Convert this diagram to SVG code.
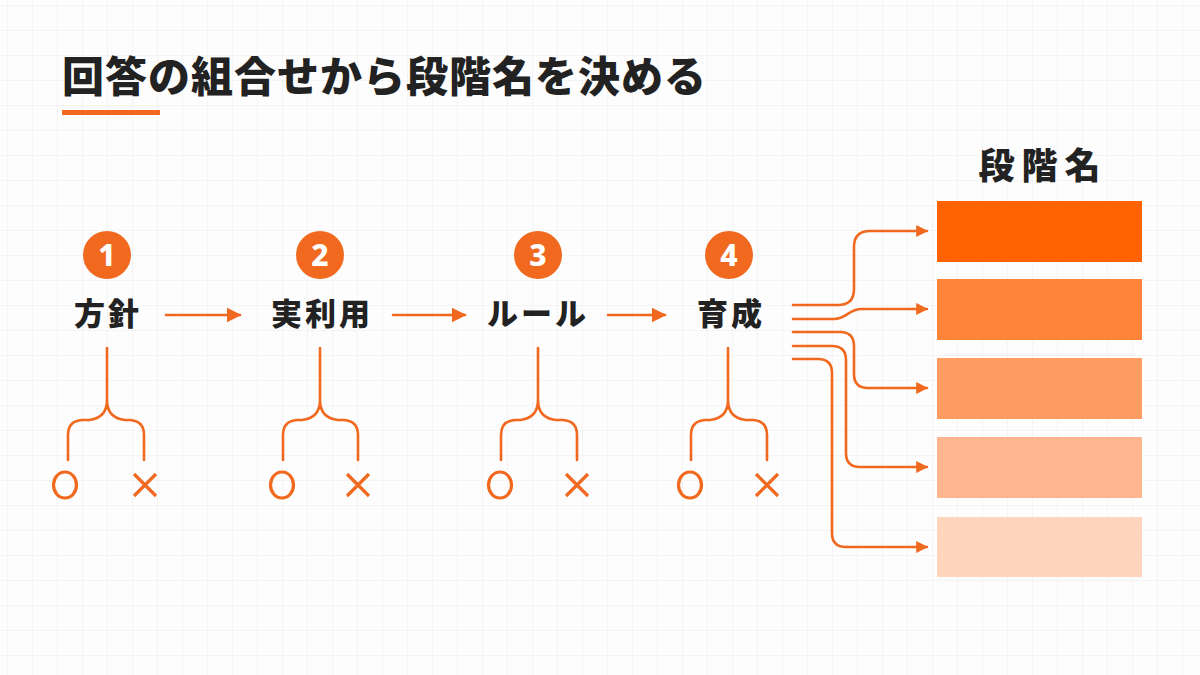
<svg xmlns="http://www.w3.org/2000/svg" width="1200" height="675" viewBox="0 0 1200 675">
<defs>
<pattern id="grid" patternUnits="userSpaceOnUse" x="7" y="5" width="25" height="25">
<path d="M0,0 H25 M0,0 V25" fill="none" stroke="#ebebeb" stroke-width="1"/>
</pattern>
<marker id="arr" markerUnits="userSpaceOnUse" viewBox="0 0 10 10" refX="9" refY="5" markerWidth="15" markerHeight="16" orient="auto">
<path d="M0,0 L10,5 L0,10 z" fill="#F0691E"/>
</marker>
<marker id="arr2" markerUnits="userSpaceOnUse" viewBox="0 0 10 10" refX="9" refY="5" markerWidth="12" markerHeight="15" orient="auto">
<path d="M0,0 L10,5 L0,10 z" fill="#F0691E"/>
</marker>
</defs>
<style>
.t{font-family:"Noto Sans","Noto Sans CJK JP",sans-serif;font-weight:900;fill:#222}
.num{font-family:"Noto Sans","Noto Sans CJK JP",sans-serif;font-weight:800;fill:#fff;font-size:30px;text-anchor:middle}
.lbl{font-size:31px;letter-spacing:3px;text-anchor:middle;font-weight:800}
.ln{fill:none;stroke:#F0691E;stroke-width:2.6;stroke-linecap:round;stroke-linejoin:round}
.ox{fill:none;stroke:#F0691E;stroke-width:3.2}
.badge{fill:#F0691E}
</style>
<rect width="1200" height="675" fill="#fdfdfd"/>
<rect width="1200" height="675" fill="url(#grid)"/>

<g id="title">
<text class="t" x="62" y="92" font-size="42" letter-spacing="1">回答の組合せから段階名を決める</text>
<rect x="62" y="110" width="98" height="5" fill="#F0691E"/>
</g>

<g id="step1">
<circle class="badge" cx="107" cy="255" r="24"/>
<text class="num" x="107" y="266">1</text>
<text class="t lbl" x="108" y="325">方針</text>
<path class="ln" d="M107,348 V400 Q107,418 89,420 H82 Q68,421 68,435 V460 M107,400 Q107,418 125,420 H130 Q144,421 144,435 V460"/>
<ellipse class="ox" cx="65" cy="485" rx="11.5" ry="13"/>
<path class="ox" d="M134,474 L156,496 M156,474 L134,496"/>
</g>

<g id="step2">
<circle class="badge" cx="320" cy="255" r="24"/>
<text class="num" x="320" y="266">2</text>
<text class="t lbl" x="322" y="325">実利用</text>
<path class="ln" d="M320,348 V400 Q320,418 302,420 H297 Q283,421 283,435 V460 M320,400 Q320,418 338,420 H344 Q358,421 358,435 V460"/>
<ellipse class="ox" cx="282" cy="485" rx="11.5" ry="13"/>
<path class="ox" d="M347,474 L369,496 M369,474 L347,496"/>
</g>

<g id="step3">
<circle class="badge" cx="538" cy="255" r="24"/>
<text class="num" x="538" y="266">3</text>
<text class="t lbl" x="538" y="325">ルール</text>
<path class="ln" d="M538,348 V400 Q538,418 520,420 H515 Q501,421 501,435 V460 M538,400 Q538,418 556,420 H563 Q577,421 577,435 V460"/>
<ellipse class="ox" cx="500" cy="485" rx="11.5" ry="13"/>
<path class="ox" d="M566,474 L588,496 M588,474 L566,496"/>
</g>

<g id="step4">
<circle class="badge" cx="729" cy="255" r="24"/>
<text class="num" x="729" y="266">4</text>
<text class="t lbl" x="731" y="325">育成</text>
<path class="ln" d="M728,348 V400 Q728,418 710,420 H705 Q691,421 691,435 V460 M728,400 Q728,418 746,420 H753 Q767,421 767,435 V460"/>
<ellipse class="ox" cx="690" cy="485" rx="11.5" ry="13"/>
<path class="ox" d="M756,474 L778,496 M778,474 L756,496"/>
</g>

<g id="stages">
<text class="t" x="1043" y="179" font-size="36" letter-spacing="7" text-anchor="middle">段階名</text>
<rect x="937" y="201" width="205" height="61" fill="#FF6200"/>
<rect x="937" y="279" width="205" height="61" fill="#FF8439"/>
<rect x="937" y="358" width="205" height="61" fill="#FF9C62"/>
<rect x="937" y="437" width="205" height="61" fill="#FFB68E"/>
<rect x="937" y="517" width="205" height="60" fill="#FFD6BD"/>
</g>

<g id="connectors">
<path class="ln" d="M166,315 H240" marker-end="url(#arr)"/>
<path class="ln" d="M393,315 H465" marker-end="url(#arr)"/>
<path class="ln" d="M608,315 H665" marker-end="url(#arr)"/>
<path class="ln" d="M793,305 H838 Q854,305 854,289 V247 Q854,231 870,231 H927" marker-end="url(#arr2)"/>
<path class="ln" d="M793,319 H834 C847,319 848,309 862,309 H927" marker-end="url(#arr2)"/>
<path class="ln" d="M793,332 H840 Q854,332 854,346 V374 Q854,388 868,388 H927" marker-end="url(#arr2)"/>
<path class="ln" d="M793,346 H832 Q846,346 846,360 V453 Q846,467 860,467 H927" marker-end="url(#arr2)"/>
<path class="ln" d="M793,359 H818 Q832,359 832,373 V533 Q832,547 846,547 H927" marker-end="url(#arr2)"/>
</g>
</svg>
